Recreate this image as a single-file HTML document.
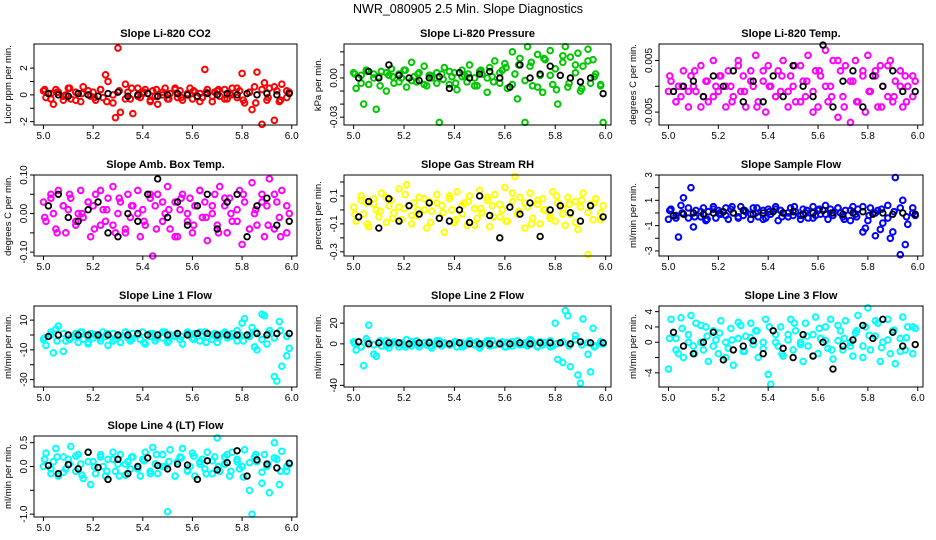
<!DOCTYPE html>
<html><head><meta charset="utf-8">
<style>
html,body{margin:0;padding:0;background:#fff;}
svg{display:block;font-family:"Liberation Sans",sans-serif;}
</style></head>
<body>
<svg id="chart" width="936" height="540" viewBox="0 0 936 540">
<text x="468" y="13" text-anchor="middle" font-size="12.5">NWR_080905  2.5 Min. Slope Diagnostics</text>
</svg>
<script>
const times=[5.00,5.01,5.03,5.04,5.05,5.06,5.08,5.09,5.10,5.11,5.13,5.14,5.15,5.16,5.18,5.19,5.20,5.21,5.23,5.24,5.25,5.26,5.28,5.29,5.30,5.31,5.33,5.34,5.35,5.36,5.38,5.39,5.40,5.41,5.43,5.44,5.45,5.46,5.48,5.49,5.50,5.51,5.53,5.54,5.55,5.56,5.58,5.59,5.60,5.61,5.63,5.64,5.65,5.66,5.68,5.69,5.70,5.71,5.73,5.74,5.75,5.76,5.78,5.79,5.80,5.81,5.83,5.84,5.85,5.86,5.88,5.89,5.90,5.91,5.93,5.94,5.95,5.96,5.98,5.99];
const timesB=[5.005,5.03,5.055,5.08,5.105,5.13,5.155,5.18,5.205,5.23,5.255,5.28,5.305,5.33,5.355,5.38,5.405,5.43,5.455,5.48,5.505,5.53,5.555,5.58,5.605,5.63,5.655,5.68,5.705,5.73,5.755,5.78,5.805,5.83,5.855,5.88,5.905,5.93,5.955,5.98];
const avgTimes=[5.02,5.06,5.10,5.14,5.18,5.22,5.26,5.30,5.34,5.38,5.42,5.46,5.50,5.54,5.58,5.62,5.66,5.70,5.74,5.78,5.82,5.86,5.90,5.94,5.99];
const xTicks=[5.0,5.2,5.4,5.6,5.8,6.0];
const xTickLabels=["5.0","5.2","5.4","5.6","5.8","6.0"];

const co2=[0.3,-0.2,0.1,-0.7,0.4,0.2,-0.4,0.0,0.5,-0.3,0.2,0.1,-0.5,0.6,0.3,-0.1,0.2,-0.4,0.4,-0.2,1.5,1.0,-0.6,-1.7,3.5,-1.3,0.8,0.2,-0.3,-1.4,0.5,-0.2,0.1,0.4,-0.5,0.3,-0.1,-0.7,0.2,0.5,-0.3,0.1,0.4,-0.2,0.3,-0.4,0.0,0.5,-0.3,0.2,0.1,-0.2,1.9,0.4,-0.5,0.2,0.3,-0.1,0.4,-0.3,0.1,0.5,-0.2,0.3,1.6,-0.6,0.2,-1.1,0.6,1.7,-2.2,0.9,-0.4,0.5,-1.9,0.3,-0.5,0.8,-0.2,0.2];
const co2B=[0.4,-0.3,0.2,-0.1,0.5,-0.4,0.1,0.3,-0.2,0.4,-0.5,0.0,0.3,-0.3,0.5,-0.1,0.2,-0.4,0.4,0.0,-0.3,0.5,-0.2,0.1,0.3,-0.5,0.2,-0.1,0.4,-0.3,0.0,0.5,-0.4,0.2,-0.6,0.4,-0.2,0.6,-0.4,0.3];
const co2Avg=[0.1,0.0,-0.1,0.1,0.0,-0.1,0.1,0.2,-0.1,0.0,0.1,-0.1,0.0,0.1,0.0,-0.1,0.1,0.0,0.1,0.0,0.1,0.0,0.1,0.0,0.1];
const pres=[0.004,-0.008,0.002,-0.02,0.006,-0.005,0.003,-0.024,0.001,0.005,-0.01,0.002,0.007,-0.004,0.003,0.000,0.006,-0.007,0.012,0.001,-0.003,0.004,0.009,-0.006,0.002,0.000,-0.004,-0.034,0.003,0.008,-0.005,0.001,0.004,-0.009,0.006,0.002,-0.003,0.010,0.000,-0.006,0.005,0.003,-0.011,0.008,0.001,0.013,-0.004,0.006,0.011,-0.008,0.020,0.003,-0.016,0.015,-0.034,0.024,0.009,-0.006,0.018,0.002,-0.011,0.014,0.021,-0.005,0.007,-0.020,0.012,0.024,-0.007,0.016,0.004,0.019,-0.010,0.009,0.022,-0.004,0.014,0.003,-0.006,-0.034];
const presB=[0.003,-0.004,0.005,0.000,-0.006,0.004,0.001,-0.003,0.006,-0.002,0.003,-0.005,0.002,0.004,-0.001,0.005,-0.004,0.001,0.003,-0.006,0.006,0.000,-0.003,0.004,0.008,-0.005,0.010,-0.002,0.012,-0.007,0.015,0.002,-0.009,0.017,-0.004,0.010,-0.008,0.013,0.001,-0.005];
const presAvg=[0.000,0.005,0.000,0.010,0.002,0.000,-0.002,0.000,0.001,-0.008,0.004,0.000,0.003,0.005,0.000,-0.007,0.010,0.000,0.003,0.009,0.002,0.000,-0.003,0.000,-0.012];
const temp=[-0.001,0.001,-0.003,0.000,-0.002,0.003,-0.004,0.002,0.000,-0.001,0.004,-0.002,0.001,-0.003,0.005,0.000,-0.001,0.002,-0.004,0.003,0.000,-0.002,0.005,-0.001,0.002,-0.004,0.003,0.000,0.006,-0.003,0.001,-0.005,0.004,0.000,-0.002,0.003,-0.001,0.005,-0.004,0.002,0.000,-0.003,0.004,0.001,-0.002,0.006,-0.001,0.003,-0.004,0.002,0.007,-0.003,0.000,0.005,-0.006,0.003,-0.002,0.004,-0.007,0.001,0.005,-0.003,0.002,-0.005,0.006,-0.001,0.003,-0.004,0.004,0.000,-0.002,0.005,-0.003,0.001,0.003,-0.004,0.002,0.000,-0.002,0.001];
const tempB=[0.002,-0.003,0.000,-0.001,0.003,-0.004,0.001,-0.002,0.002,0.000,-0.003,0.004,-0.001,0.001,-0.004,0.003,0.000,-0.002,0.002,-0.001,0.004,-0.003,0.001,-0.005,0.003,0.000,-0.002,0.005,-0.004,0.001,-0.003,0.003,-0.001,0.002,-0.004,0.004,-0.002,0.000,-0.003,0.002];
const tempAvg=[-0.001,0.000,0.001,-0.002,0.002,0.000,0.003,-0.003,0.001,-0.003,0.002,-0.002,0.004,0.000,-0.002,0.008,-0.004,0.001,0.003,-0.004,0.002,0.000,0.003,-0.001,-0.001];
const amb=[0.03,-0.02,0.05,0.00,-0.04,0.06,0.02,-0.05,0.01,0.04,-0.03,0.00,0.06,-0.01,0.03,-0.06,0.02,0.05,-0.03,0.01,-0.02,0.04,0.07,-0.05,0.00,0.03,-0.04,0.05,-0.01,0.02,0.06,-0.06,0.01,-0.03,0.04,-0.11,0.02,0.05,-0.02,0.00,0.07,-0.04,0.03,-0.06,0.01,0.05,-0.02,0.04,-0.05,0.02,0.06,-0.01,0.03,-0.07,0.00,0.05,-0.03,0.07,0.02,-0.05,0.04,-0.02,0.01,0.06,-0.08,0.03,-0.04,0.08,0.00,-0.03,0.05,-0.06,0.02,0.09,-0.04,0.03,-0.01,0.06,-0.05,0.00];
const ambB=[-0.01,0.04,-0.05,0.02,0.05,-0.02,0.00,0.03,-0.04,0.06,0.01,-0.03,0.04,-0.05,0.02,0.00,-0.02,0.05,-0.04,0.03,0.01,-0.06,0.04,0.00,-0.03,0.06,-0.01,0.02,-0.05,0.04,0.00,-0.02,0.05,-0.04,0.01,0.03,-0.03,0.05,-0.06,0.02];
const ambAvg=[0.02,0.05,-0.01,-0.02,0.01,0.03,-0.05,-0.06,0.00,-0.02,0.05,0.09,-0.01,0.03,-0.03,0.02,0.05,-0.04,0.03,0.05,-0.06,0.02,0.04,-0.03,-0.02];
const rh=[0.02,-0.08,0.10,-0.03,0.05,-0.12,0.08,0.00,-0.05,0.12,-0.09,0.03,0.07,-0.02,0.15,-0.07,0.01,0.18,-0.10,0.05,-0.04,0.09,0.00,-0.13,0.06,-0.01,0.11,-0.06,0.03,-0.16,0.08,0.00,-0.09,0.13,-0.03,0.05,-0.11,0.10,0.01,-0.06,0.14,-0.02,0.07,-0.12,0.03,0.11,-0.05,0.00,0.16,-0.08,0.06,0.24,-0.03,0.09,-0.13,0.02,0.12,-0.06,0.04,-0.10,0.08,0.00,-0.04,0.13,-0.08,0.05,0.01,-0.11,0.09,-0.03,0.06,-0.14,0.02,0.12,-0.32,0.04,-0.07,0.08,-0.02,0.03];
const rhB=[-0.03,0.07,-0.10,0.04,-0.01,0.09,-0.06,0.02,0.11,-0.04,0.00,0.08,-0.09,0.05,-0.02,0.10,-0.07,0.03,0.06,-0.11,0.01,0.09,-0.05,0.04,-0.08,0.12,-0.01,0.05,-0.10,0.07,0.00,-0.06,0.10,-0.03,0.04,-0.09,0.07,-0.02,0.05,-0.07];
const rhAvg=[-0.05,0.06,-0.13,0.08,-0.08,0.03,-0.03,0.05,-0.06,-0.08,0.00,-0.09,0.10,-0.04,-0.20,0.02,-0.03,0.05,-0.19,0.00,0.03,-0.02,-0.08,0.03,-0.05];
const sflow=[-0.5,0.3,-0.2,-1.9,0.6,1.2,-0.4,2.0,-1.1,0.2,-0.3,0.4,-0.6,0.1,0.5,-0.4,0.2,-0.1,0.4,-0.5,0.3,0.0,-0.3,0.5,-0.2,0.1,-0.5,0.4,0.0,-0.3,0.2,-0.4,0.3,-0.1,0.5,-0.6,0.2,0.0,-0.3,0.4,-0.2,0.1,-0.5,0.3,0.0,-0.4,0.5,-0.2,0.2,-0.1,0.6,-0.5,0.3,-0.2,0.4,0.0,-0.3,0.2,-0.6,0.5,-0.1,0.3,-1.5,-1.2,-0.6,0.4,-1.8,0.2,-1.3,-0.8,0.6,-2.0,-1.5,2.8,-3.3,1.0,-2.5,-0.9,0.4,-0.2];
const sflowB=[0.2,-0.4,0.0,0.4,-0.3,0.1,-0.5,0.3,0.0,-0.2,0.5,-0.4,0.2,-0.1,0.4,-0.5,0.1,0.3,-0.3,0.0,0.5,-0.2,0.2,-0.4,0.3,-0.1,0.0,0.4,-0.5,0.2,-0.3,0.5,-0.2,0.0,0.3,-0.4,0.1,0.4,-0.3,0.0];
const sflowAvg=[-0.2,-0.1,0.0,-0.1,0.0,0.1,0.0,0.2,-0.1,0.0,0.1,0.0,0.1,-0.1,0.0,0.2,0.0,-0.1,0.0,0.1,-0.1,0.0,-0.1,0.0,-0.1];
const line1=[-3,-7,2,-12,4,6,-11,-4,0,-2,1,-5,2,-3,-6,1,-2,0,-4,2,-1,-7,1,-3,0,-5,2,-2,-4,1,0,-3,2,-6,-1,1,-4,0,-2,2,-5,0,-1,1,-3,-6,2,0,-2,1,-4,0,2,-1,-3,1,-5,0,2,-2,-1,1,-4,0,8,11,-1,5,-8,-10,14,13,-6,3,-28,-31,9,-21,-14,-9];
const line1B=[-2,0,-4,1,-3,-1,2,-5,0,-2,1,-4,-1,2,-3,0,-5,1,-2,2,-4,0,-1,1,-3,2,-5,0,-2,1,-1,3,-4,0,2,-3,1,-2,3,-1];
const line1Avg=[-1,0,0,0,0,0,0,0,0,1,0,0,0,1,0,1,1,0,0,0,0,1,0,1,1];
const line2=[2,-6,-3,-21,5,18,-10,-12,1,-2,3,-4,0,2,-3,1,-1,4,-2,0,3,-3,1,-1,2,-4,0,3,-2,1,-1,0,2,-3,1,-2,0,3,-1,2,-4,0,1,-2,3,-1,0,2,-3,1,-2,0,3,-1,1,-2,4,0,-3,2,-1,1,3,-2,20,-15,-18,32,27,-22,8,-30,-38,24,-10,-27,15,-2,1,0];
const line2B=[0,-3,2,-1,3,-2,1,0,-3,2,-1,1,-2,3,0,-1,2,-3,1,0,-2,3,-1,1,-3,2,0,-1,3,-2,1,-3,0,2,-2,4,-1,1,-3,2];
const line2Avg=[2,0,1,1,1,0,1,1,0,0,1,0,0,0,0,0,1,0,1,1,1,0,2,1,1];
const line3=[-3.5,3.0,0.5,-1.5,3.2,-2.0,1.0,3.5,-0.5,2.5,0.0,-1.0,2.0,-2.5,1.5,0.3,-1.5,2.8,0.0,-0.8,1.8,-3.0,0.5,2.2,-1.2,0.8,2.5,-0.3,1.5,-2.0,0.0,3.0,-4.2,-5.5,1.0,-0.5,2.0,-1.8,0.3,3.0,-1.0,1.5,0.0,-2.5,2.5,-0.5,1.0,3.3,-1.5,0.5,2.0,-0.8,3.0,-2.2,0.2,1.5,-1.0,2.8,0.0,-1.8,1.2,3.5,-0.5,2.0,4.5,-1.0,0.8,2.5,-2.5,0.0,3.0,-1.5,1.5,-2.8,0.5,3.3,-1.0,2.0,-1.5,1.8];
const line3B=[0.5,-1.0,1.8,0.0,-1.5,2.2,0.8,-0.5,1.2,-2.0,0.3,2.6,-1.2,0.6,1.5,-0.8,2.0,0.0,-1.5,1.0,2.5,-0.3,0.8,-1.8,1.8,0.2,-1.0,2.2,0.5,-0.5,1.5,-2.0,0.9,2.8,-0.7,0.3,1.6,-1.2,0.6,2.0];
const line3Avg=[1.3,-0.5,-1.5,0.0,1.3,-2.3,-1.0,-0.5,0.2,-1.5,1.5,-0.8,-2.0,1.0,-1.8,0.0,-3.5,-0.5,0.3,2.2,0.5,3.0,1.3,-0.5,-0.3];
const line4=[0.0,0.28,-0.15,0.1,0.38,-0.2,0.2,-0.05,0.15,0.42,-0.1,0.25,0.05,-0.25,0.3,-0.38,0.1,-0.15,0.2,0.0,-0.2,0.15,0.3,-0.1,0.05,0.25,-0.18,0.1,-0.05,0.2,0.0,-0.2,0.15,0.3,-0.1,0.4,0.05,-0.15,0.25,0.0,-0.95,0.35,-0.2,0.1,0.2,0.38,-0.1,0.0,0.28,-0.2,0.1,0.15,-0.05,0.3,-0.15,0.2,0.6,-0.1,0.05,0.25,-0.2,0.3,0.1,-0.05,0.0,0.35,-0.5,-1.0,0.2,0.1,-0.35,0.25,0.0,-0.55,0.5,0.15,-0.38,0.32,-0.1,0.05];
const line4B=[0.15,-0.05,0.2,-0.12,0.05,0.22,-0.18,0.1,0.0,0.25,-0.1,0.15,-0.2,0.05,0.2,-0.05,0.12,-0.15,0.25,0.0,0.1,-0.2,0.18,-0.08,0.22,0.05,-0.15,0.12,0.0,0.2,-0.1,0.15,-0.22,0.08,0.25,-0.12,0.05,0.18,-0.1,0.0];
const line4Avg=[0.02,-0.15,0.04,-0.05,0.3,-0.02,-0.27,0.15,-0.15,0.0,0.18,0.02,-0.05,0.05,0.03,-0.27,0.12,-0.07,0.08,0.33,-0.2,0.14,0.05,-0.03,0.07];

const panelTitles=["Slope Li-820 CO2","Slope Li-820 Pressure","Slope Li-820 Temp.","Slope Amb. Box Temp.","Slope Gas Stream RH","Slope Sample Flow","Slope Line 1 Flow","Slope Line 2 Flow","Slope Line 3 Flow","Slope Line 4 (LT) Flow"];
const yTitles=["Licor ppm per min.","kPa per min.","degrees C per min.","degrees C per min.","percent per min.","ml/min per min.","ml/min per min.","ml/min per min.","ml/min per min.","ml/min per min."];
const yTicks=[[-2,-1,0,1,2],[-0.03,-0.02,-0.01,0,0.01,0.02],[-0.005,0,0.005],[-0.10,-0.05,0,0.05,0.10],[-0.3,-0.2,-0.1,0,0.1,0.2],[-3,-2,-1,0,1,2,3],[-30,-20,-10,0,10],[-40,-20,0,20],[-4,-2,0,2,4],[-1.0,-0.5,0,0.5]];
const yTickLabelVals=[[-2,0,2],[-0.03,0],[-0.005,0.005],[-0.10,0,0.10],[-0.3,-0.1,0.1],[-3,-1,1,3],[-30,-10,10],[-40,0,20],[-4,0,2,4],[-1.0,0,0.5]];
const yTickLabels=[["-2","0","2"],["-0.03","0.00"],["-0.005","0.005"],["-0.10","0.00","0.10"],["-0.3","-0.1","0.1"],["-3","-1","1","3"],["-30","-10","10"],["-40","0","20"],["-4","0","2","4"],["-1.0","0.0","0.5"]];
const yDomains=[[-2.25,3.8],[-0.036,0.026],[-0.0075,0.0082],[-0.11,0.10],[-0.33,0.25],[-3.4,3.0],[-35,19.5],[-41.6,36.5],[-5.85,4.74],[-1.06,0.64]];
const series=[co2,pres,temp,amb,rh,sflow,line1,line2,line3,line4];
const seriesB=[co2B,presB,tempB,ambB,rhB,sflowB,line1B,line2B,line3B,line4B];
const avgSeries=[co2Avg,presAvg,tempAvg,ambAvg,rhAvg,sflowAvg,line1Avg,line2Avg,line3Avg,line4Avg];
const colors=["#ff0000","#00c800","#ff00ff","#ff00ff","#ffff00","#0000ff","#00ffff","#00ffff","#00ffff","#00ffff"];

const NS="http://www.w3.org/2000/svg";
const svg=document.getElementById('chart');
const colLeft=[34,344,659], colRight=[297,611,923];
const rowTop=[44,175,306,436], boxH=81;
function mk(tag,attrs,parent){const e=document.createElementNS(NS,tag);for(const k in attrs)e.setAttribute(k,attrs[k]);(parent||svg).appendChild(e);return e;}

for(let p=0;p<10;p++){
  const col=p%3,row=Math.floor(p/3);
  const L=colLeft[col],R=colRight[col],T=rowTop[row],B=T+boxH;
  const w=R-L;
  const xs=v=>L+w*0.036+(v-5.0)/1.0*(w*(1-0.036-0.02));
  const [d0,d1]=yDomains[p];
  const ys=v=>B-(v-d0)/(d1-d0)*boxH;
  const g=mk('g',{});
  
  
  const t=mk('text',{x:(L+R)/2,y:T-7,'text-anchor':'middle','font-size':'11','font-weight':'bold'},g);
  t.textContent=panelTitles[p];
  
  
  const yt=mk('text',{transform:`translate(${L-23},${(T+B)/2}) rotate(-90)`,'text-anchor':'middle','font-size':'9.5'},g);
  yt.textContent=yTitles[p];
  
  
  xTicks.forEach((v,i)=>{
    const x=xs(v);
    const tk=mk('line',{x1:x,x2:x,y1:B,y2:B+4,stroke:'#000','stroke-width':1},g);
    
    
    const tl=mk('text',{x:x,y:B+14,'text-anchor':'middle','font-size':'10'},g);
    tl.textContent=xTickLabels[i];
    
    
  });
  yTicks[p].forEach(v=>{
    const y=ys(v);
    const tk=mk('line',{x1:L-4,x2:L,y1:y,y2:y,stroke:'#000','stroke-width':1},g);
    
    
  });
  yTickLabelVals[p].forEach((v,i)=>{
    const y=ys(v);
    const tl=mk('text',{transform:`translate(${L-7},${y}) rotate(-90)`,'text-anchor':'middle','font-size':'10'},g);
    tl.textContent=yTickLabels[p][i];
    
    
  });
  const vb=seriesB[p];
  const nb=Math.min(timesB.length,vb.length);
  for(let i=0;i<nb;i++){
    const c=mk('circle',{cx:xs(timesB[i]),cy:ys(vb[i]),r:2.8,fill:'none',stroke:colors[p],'stroke-width':2},g);
    
    
  }
  const vals=series[p];
  const n=Math.min(times.length,vals.length);
  for(let i=0;i<n;i++){
    const c=mk('circle',{cx:xs(times[i]),cy:ys(vals[i]),r:2.8,fill:'none',stroke:colors[p],'stroke-width':2},g);
    
    
  }
  const av=avgSeries[p];
  const m=Math.min(avgTimes.length,av.length);
  for(let i=0;i<m;i++){
    const c=mk('circle',{cx:xs(avgTimes[i]),cy:ys(av[i]),r:2.8,fill:'none',stroke:'#000','stroke-width':1.8},g);
    
    
  }
  const box=mk('rect',{x:L,y:T,width:w,height:boxH,fill:'none',stroke:'#000','stroke-width':1},g);
  
  
}
</script>
</body></html>
